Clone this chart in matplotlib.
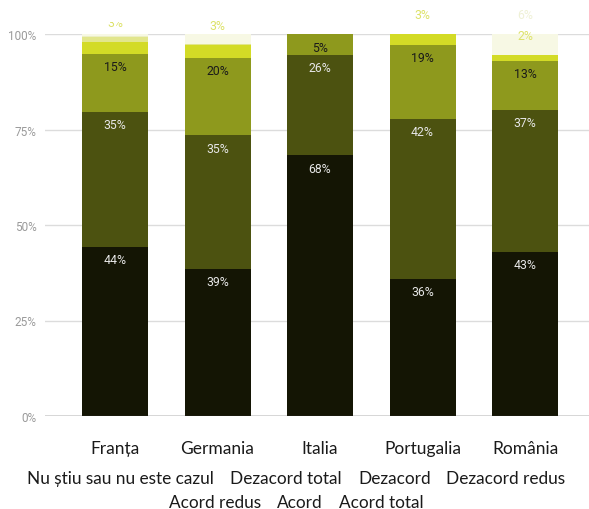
import matplotlib
matplotlib.use("Agg")
import matplotlib.pyplot as plt
from matplotlib.transforms import Bbox, TransformedBbox

categories = ["Franța", "Germania", "Italia", "Portugalia", "România"]
series_names = ["Acord total", "Acord", "Acord redus", "Dezacord redus",
                "Dezacord", "Dezacord total", "Nu știu sau nu este cazul"]
acord_total = [44.2, 38.6, 68.2, 35.9, 42.9]
acord = [35.4, 34.9, 26.3, 41.8, 37.2]
acord_redus = [15.2, 20.3, 5.4, 19.4, 12.8]
dezacord_redus = [3.2, 3.4, 0.0, 2.9, 1.6]
dezacord = [1.1, 0.3, 0.0, 0.0, 0.0]
dezacord_total = [0.3, 0.0, 0.0, 0.0, 0.0]
nu_stiu = [0.6, 2.5, 0.0, 0.0, 5.6]
yticks = [0, 25, 50, 75, 100]
ytick_labels = ["0%", "25%", "50%", "75%", "100%"]

series = [acord_total, acord, acord_redus, dezacord_redus, dezacord, dezacord_total, nu_stiu]
colors = ["#141504", "#4c5210", "#8e991d", "#d3db26", "#e2e68c", "#ecefc4", "#f7f8e4"]
label_colors = ["#e6e6e6", "#e6e6e6", "#1a1a1a", None, None, None, None]
# labels of small segments drawn above the plot: (bar, series, y in data units, color, partly hidden)
outside = [(0, 3, 102.9, "#dde26a", True), (1, 3, 102.1, "#dde26a", False),
           (3, 3, 105.2, "#dde26a", False), (4, 3, 99.6, "#dde26a", False),
           (4, 6, 105.2, "#eff1d6", False)]

W, H = 589, 510
fig = plt.figure(figsize=(W / 100, H / 100), dpi=100)
ax = fig.add_axes([45 / W, (H - 417) / H, 544 / W, (417 - 35) / H])

x = list(range(len(categories)))
bottoms = [0.0] * len(categories)
bw = 0.644
rfont = ["Roboto", "DejaVu Sans"]
for s, vals in enumerate(series):
    ax.bar(x, vals, bw, bottom=bottoms, color=colors[s], linewidth=0, zorder=3)
    for i, v in enumerate(vals):
        if v >= 5 and label_colors[s]:
            ax.annotate(f"{round(v)}%", (x[i], bottoms[i] + v), xytext=(0, -9.2),
                        textcoords="offset points", ha="center", va="center",
                        fontsize=8.8, color=label_colors[s], family=rfont, zorder=4)
    bottoms = [b + v for b, v in zip(bottoms, vals)]

clipbox = TransformedBbox(Bbox([[0, 0], [1, (H - 23) / H]]), fig.transFigure)
for i, s, yy, c, hidden in outside:
    t = ax.text(x[i], yy, f"{round(series[s][i])}%", ha="center", va="center",
                fontsize=8.8, color=c, family=rfont, zorder=5, clip_on=False)
    if hidden:
        t.set_clip_path(None)
        t.set_clip_box(clipbox)
        t.set_clip_on(True)

ax.set_ylim(0, 100)
ax.set_xlim(-0.683, 4.624)
ax.set_yticks(yticks)
ax.set_yticklabels(ytick_labels, family=rfont, fontsize=8.5, color="#9a9a9a")
ax.tick_params(axis="y", length=0, pad=6)
ax.set_xticks(x)
cfont = ["Lato", "DejaVu Sans"]
ax.set_xticklabels(categories, family=cfont, fontsize=12.5, color="#1a1a1a")
ax.tick_params(axis="x", length=0, pad=17.5)
for sp in ax.spines.values():
    sp.set_visible(False)
for yv in yticks[1:]:
    ax.axhline(yv, color="#dcdcdc", lw=1, zorder=1)
ax.axhline(0, color="#333333", lw=1, zorder=5)

# text-only legend, two centred rows
legend_names = series_names[::-1]
rows = [(legend_names[:4], 479), (legend_names[4:], 503)]
fig.canvas.draw()
renderer = fig.canvas.get_renderer()
gap = 16
for names, ypx in rows:
    texts = [fig.text(0, 1 - ypx / H, n, family=cfont, fontsize=12.4, color="#1a1a1a",
                      ha="left", va="center") for n in names]
    widths = [t.get_window_extent(renderer).width for t in texts]
    total = sum(widths) + gap * (len(widths) - 1)
    xs = (W - total) / 2 + 2
    for t, w in zip(texts, widths):
        t.set_x(xs / W)
        xs += w + gap

fig.savefig("out.png", dpi=100)
